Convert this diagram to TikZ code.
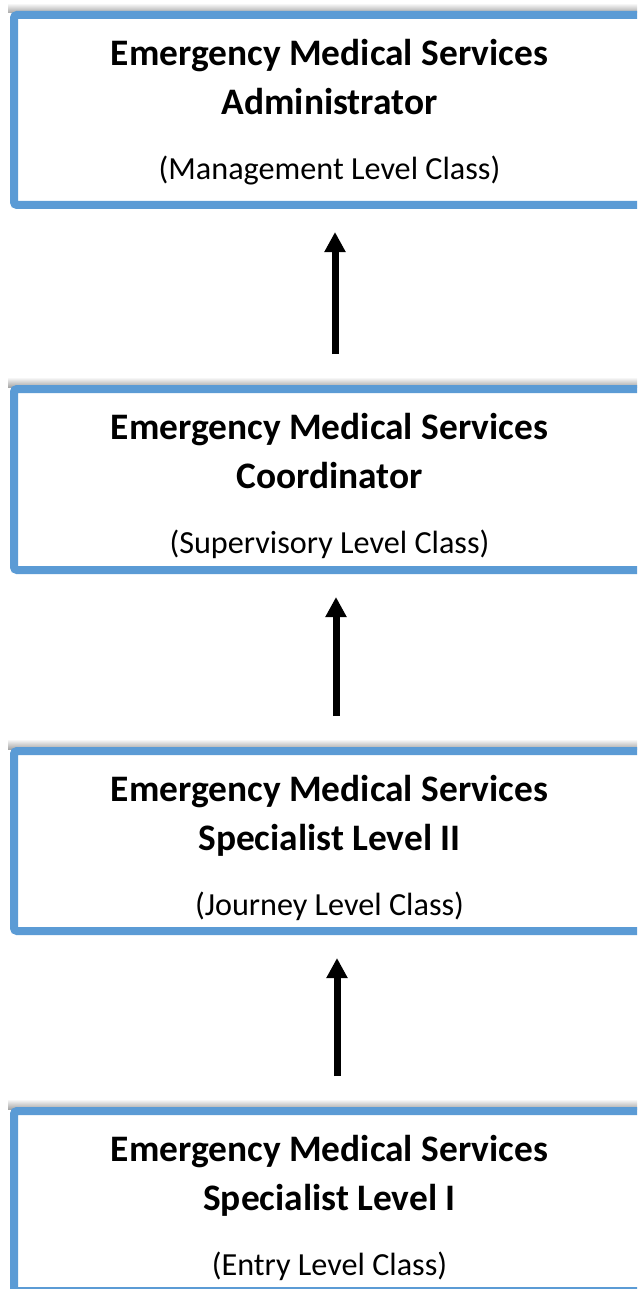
\documentclass[tikz,border=0pt]{standalone}
\usepackage{fontspec}
\setmainfont{Carlito}
\usetikzlibrary{arrows.meta}
\definecolor{boxblue}{HTML}{5B9BD5}
\begin{document}
\begin{tikzpicture}[x=1pt,y=-1pt,
  stagebox/.style={draw=boxblue, line width=8pt, fill=white, rounded corners=3pt, inner sep=0pt, minimum width=630pt},
  titletext/.style={anchor=base, font=\fontsize{37.4}{44}\selectfont\bfseries, inner sep=0pt},
  classtext/.style={anchor=base, font=\fontsize{32.2}{38}\selectfont, inner sep=0pt},
  uparrow/.style={line width=7pt, -{Triangle[width=20pt,length=20pt]}, shorten <=31pt, shorten >=23pt}]
\useasboundingbox (0,0) rectangle (637,1289);
\clip (0,0) rectangle (637,1289);
\fill[white] (0,0) rectangle (637,1289);
% shadows above boxes
\foreach \t in {11,385,747,1107}{
  \shade[top color=white, bottom color=black!35] (8,\t-8) rectangle (652,\t+2);
}
\node[stagebox, minimum height=190pt] (b1) at (329,110) {};
\node[stagebox, minimum height=181pt] (b2) at (329,479.5) {};
\node[stagebox, minimum height=180pt] (b3) at (329,841) {};
\node[stagebox, minimum height=180pt] (b4) at (329,1201) {};
\foreach \b/\l/\c in {b1/Administrator/(Management Level Class),
                       b2/Coordinator/(Supervisory Level Class),
                       b3/Specialist Level II/(Journey Level Class),
                       b4/Specialist Level I/(Entry Level Class)}{
  \node[titletext] (\b t1) at ([xshift=0.5pt,yshift=-54.5pt]\b.north) {Emergency Medical Services};
  \node[titletext] (\b t2) at ([xshift=0.5pt,yshift=-103.5pt]\b.north) {\l};
  \node[classtext] (\b t3) at ([xshift=0.5pt,yshift=-168.5pt]\b.north) {\c};
}
\draw[uparrow] ([xshift=6pt]b2.north) -- ([xshift=6pt]b1.south);
\draw[uparrow] ([xshift=7pt]b3.north) -- ([xshift=7pt]b2.south);
\draw[uparrow] ([xshift=8pt]b4.north) -- ([xshift=8pt]b3.south);
\end{tikzpicture}
\end{document}
